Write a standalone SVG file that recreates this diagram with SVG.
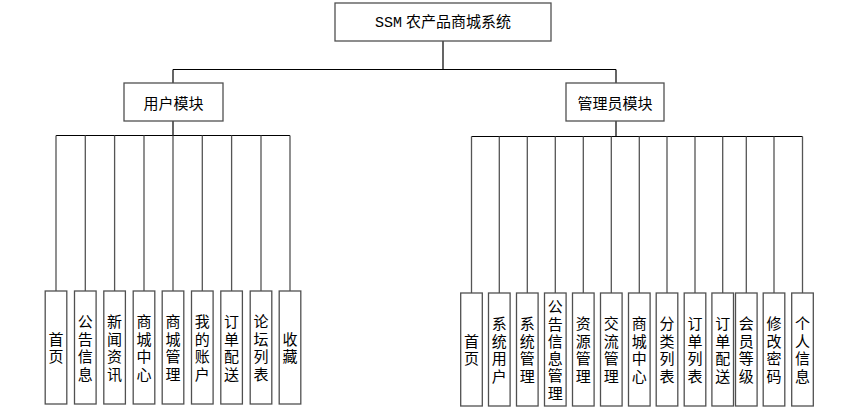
<svg xmlns="http://www.w3.org/2000/svg" width="855" height="418" viewBox="0 0 855 418">
<style>
.box{fill:#fff;stroke:#505050;stroke-width:1.3}
.ln{stroke:#000;stroke-width:1.2;fill:none}
.vl{stroke:#555;stroke-width:1.3;fill:none}
text{font-family:"Noto Sans CJK SC","Noto Sans",sans-serif;font-size:15px;fill:#000;text-anchor:middle}
.t{font-family:"Liberation Serif","Noto Sans CJK SC",serif}
.v{writing-mode:vertical-rl;letter-spacing:2.6px}
</style>
<rect width="855" height="418" fill="#fff"/>
<g id="connectors">
<path class="ln" d="M443,41 V69.5 M173,69.5 H616 M173,69.5 V83 M616,69.5 V83"/>
<path class="ln" d="M173,121 V135.5 M56,135.5 H290"/>
<path class="vl" d="M56,135.5 V291 M85.3,135.5 V291 M114.6,135.5 V291 M144,135.5 V291 M173,135.5 V291 M202.3,135.5 V291 M231.6,135.5 V291 M261,135.5 V291 M290,135.5 V291"/>
<path class="ln" d="M616,121 V136.5 M471.5,136.5 H802.5"/>
<path class="vl" d="M471.5,136.5 V293 M499.3,136.5 V293 M527.3,136.5 V293 M555.3,136.5 V293 M583.3,136.5 V293 M611.3,136.5 V293 M639.3,136.5 V293 M667,136.5 V293 M695,136.5 V293 M722.7,136.5 V293 M746.3,136.5 V293 M774,136.5 V293 M802.5,136.5 V293"/>
</g>
<g id="root"><rect class="box" x="335" y="3" width="216" height="38"/><text class="t" x="443" y="27"><tspan font-family="Liberation Mono">SSM</tspan> 农产品商城系统</text></g>
<g id="user"><rect class="box" x="124" y="83" width="99" height="38"/><text x="173.5" y="108.5">用户模块</text></g>
<g id="admin"><rect class="box" x="566" y="83" width="98" height="38"/><text x="615" y="108.5">管理员模块</text></g>
<g id="u1"><rect class="box" x="45.2" y="291" width="21.6" height="113"/><text class="v" x="56" y="349">首页</text></g>
<g id="u2"><rect class="box" x="74.5" y="291" width="21.6" height="113"/><text class="v" x="85.3" y="349">公告信息</text></g>
<g id="u3"><rect class="box" x="103.8" y="291" width="21.6" height="113"/><text class="v" x="114.6" y="349">新闻资讯</text></g>
<g id="u4"><rect class="box" x="133.2" y="291" width="21.6" height="113"/><text class="v" x="144" y="349">商城中心</text></g>
<g id="u5"><rect class="box" x="162.2" y="291" width="21.6" height="113"/><text class="v" x="173" y="349">商城管理</text></g>
<g id="u6"><rect class="box" x="191.5" y="291" width="21.6" height="113"/><text class="v" x="202.3" y="349">我的账户</text></g>
<g id="u7"><rect class="box" x="220.8" y="291" width="21.6" height="113"/><text class="v" x="231.6" y="349">订单配送</text></g>
<g id="u8"><rect class="box" x="250.2" y="291" width="21.6" height="113"/><text class="v" x="261" y="349">论坛列表</text></g>
<g id="u9"><rect class="box" x="279.2" y="291" width="21.6" height="113"/><text class="v" x="290" y="349">收藏</text></g>
<g id="a1"><rect class="box" x="460.7" y="293" width="21.6" height="113"/><text class="v" x="471.5" y="351">首页</text></g>
<g id="a2"><rect class="box" x="488.5" y="293" width="21.6" height="113"/><text class="v" x="499.3" y="351">系统用户</text></g>
<g id="a3"><rect class="box" x="516.5" y="293" width="21.6" height="113"/><text class="v" x="527.3" y="351">系统管理</text></g>
<g id="a4"><rect class="box" x="544.5" y="293" width="21.6" height="113"/><text class="v" x="555.3" y="351" style="letter-spacing:2.3px">公告信息管理</text></g>
<g id="a5"><rect class="box" x="572.5" y="293" width="21.6" height="113"/><text class="v" x="583.3" y="351">资源管理</text></g>
<g id="a6"><rect class="box" x="600.5" y="293" width="21.6" height="113"/><text class="v" x="611.3" y="351">交流管理</text></g>
<g id="a7"><rect class="box" x="628.5" y="293" width="21.6" height="113"/><text class="v" x="639.3" y="351">商城中心</text></g>
<g id="a8"><rect class="box" x="656.2" y="293" width="21.6" height="113"/><text class="v" x="667" y="351">分类列表</text></g>
<g id="a9"><rect class="box" x="684.2" y="293" width="21.6" height="113"/><text class="v" x="695" y="351">订单列表</text></g>
<g id="a10"><rect class="box" x="711.9" y="293" width="21.6" height="113"/><text class="v" x="722.7" y="351">订单配送</text></g>
<g id="a11"><rect class="box" x="735.5" y="293" width="21.6" height="113"/><text class="v" x="746.3" y="351">会员等级</text></g>
<g id="a12"><rect class="box" x="763.2" y="293" width="21.6" height="113"/><text class="v" x="774" y="351">修改密码</text></g>
<g id="a13"><rect class="box" x="791.7" y="293" width="21.6" height="113"/><text class="v" x="802.5" y="351">个人信息</text></g>
</svg>
